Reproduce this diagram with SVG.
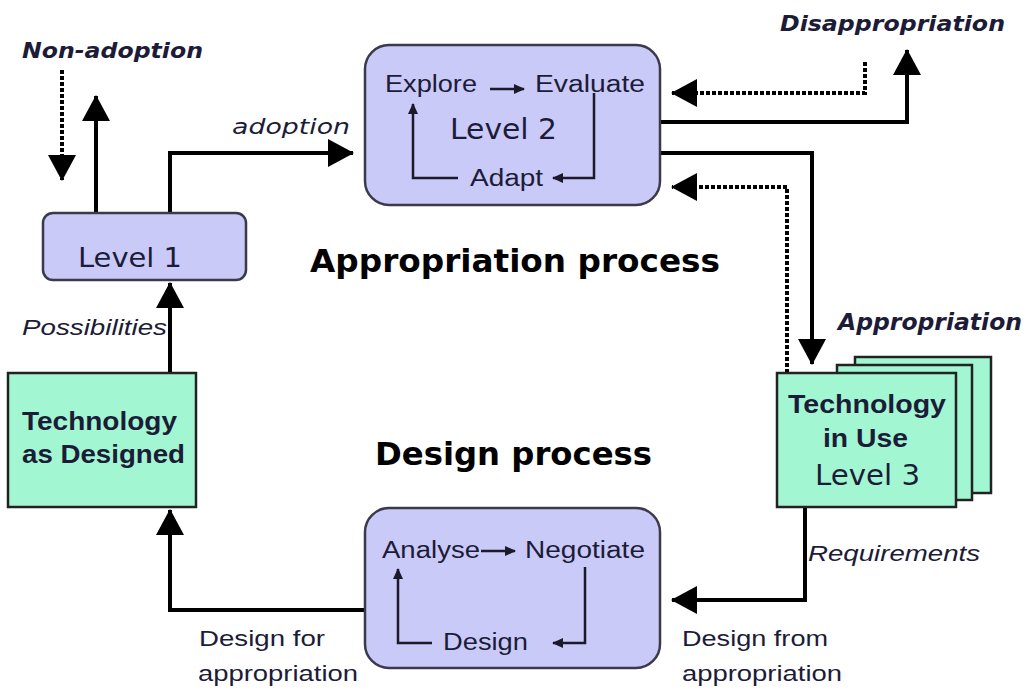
<svg xmlns="http://www.w3.org/2000/svg" width="1027" height="689" viewBox="0 0 1027 689">
<defs>
<style>
.lav{fill:#cacaf8;stroke:#3a3a4a;stroke-width:2.5}
.grn{fill:#a2f7d2;stroke:#222;stroke-width:2.5}
.ln{fill:none;stroke:#000;stroke-width:4}
.dot{fill:none;stroke:#000;stroke-width:4;stroke-dasharray:4 2}
.in{fill:none;stroke:#1a1a2a;stroke-width:2.5}
.t{font-family:"Liberation Sans",Arial,sans-serif;fill:#1c1c38}
.it{font-family:"Liberation Sans",Arial,sans-serif;font-style:italic;fill:#1c1c38}
.ibt{font-family:"DejaVu Sans",Verdana,sans-serif;font-style:italic;font-weight:bold;fill:#1c1c38}
.lv{font-family:"DejaVu Sans",Verdana,sans-serif;fill:#1c1c38}
.ttl{font-family:"DejaVu Sans","Liberation Sans",sans-serif;font-weight:bold;fill:#000}
</style>
<marker id="ah" markerUnits="userSpaceOnUse" markerWidth="26" markerHeight="28" refX="25" refY="14" orient="auto"><path d="M0,0 L26,14 L0,28 z" fill="#000"/></marker>
<marker id="sah" markerUnits="userSpaceOnUse" markerWidth="11" markerHeight="10" refX="10" refY="5" orient="auto"><path d="M0,0 L11,5 L0,10 z" fill="#1a1a2a"/></marker>
</defs>
<rect width="1027" height="689" fill="#fff"/>

<g id="connectors">
<path class="dot" d="M62,70 V180" marker-end="url(#ah)"/>
<path class="ln" d="M96,213 V96" marker-end="url(#ah)"/>
<path class="ln" d="M170,213 V153 H353" marker-end="url(#ah)"/>
<path class="ln" d="M660,122 H907 V50" marker-end="url(#ah)"/>
<path class="dot" d="M865,62 V93 H672" marker-end="url(#ah)"/>
<path class="ln" d="M660,153 H812 V364" marker-end="url(#ah)"/>
<path class="dot" d="M787,373 V187 H672" marker-end="url(#ah)"/>
<path class="ln" d="M805,507 V600 H672" marker-end="url(#ah)"/>
<path class="ln" d="M365,610 H170 V510" marker-end="url(#ah)"/>
<path class="ln" d="M170,373 V283" marker-end="url(#ah)"/>
</g>

<g id="labels">
<text class="ibt" x="22" y="58" font-size="22" textLength="181" lengthAdjust="spacingAndGlyphs">Non-adoption</text>
<text class="ibt" x="232" y="134" font-size="22" font-weight="normal" textLength="118" lengthAdjust="spacingAndGlyphs" style="font-weight:normal">adoption</text>
<text class="ibt" x="780" y="31" font-size="22" textLength="225" lengthAdjust="spacingAndGlyphs">Disappropriation</text>
<text class="ibt" x="838" y="330" font-size="23" textLength="184" lengthAdjust="spacingAndGlyphs">Appropriation</text>
<text class="it" x="22" y="335" font-size="22" textLength="145" lengthAdjust="spacingAndGlyphs">Possibilities</text>
<text class="it" x="808" y="561" font-size="22" textLength="172" lengthAdjust="spacingAndGlyphs">Requirements</text>
<text class="t" x="199" y="646" font-size="22" textLength="126" lengthAdjust="spacingAndGlyphs">Design for</text>
<text class="t" x="198" y="681" font-size="22" textLength="160" lengthAdjust="spacingAndGlyphs">appropriation</text>
<text class="t" x="682" y="646" font-size="22" textLength="146" lengthAdjust="spacingAndGlyphs">Design from</text>
<text class="t" x="682" y="681" font-size="22" textLength="160" lengthAdjust="spacingAndGlyphs">appropriation</text>
<text class="ttl" x="310" y="272" font-size="32" textLength="410" lengthAdjust="spacingAndGlyphs">Appropriation process</text>
<text class="ttl" x="375" y="465" font-size="32" textLength="277" lengthAdjust="spacingAndGlyphs">Design process</text>
</g>

<g id="level1">
<rect class="lav" x="43" y="213" width="203" height="67" rx="10"/>
<text class="lv" x="78" y="267" font-size="27" textLength="104" lengthAdjust="spacingAndGlyphs">Level 1</text>
</g>

<g id="level2">
<rect class="lav" x="365" y="45" width="295" height="160" rx="24"/>
<text class="t" x="385" y="92" font-size="23" textLength="92" lengthAdjust="spacingAndGlyphs">Explore</text>
<text class="t" x="535" y="92" font-size="23" textLength="110" lengthAdjust="spacingAndGlyphs">Evaluate</text>
<text class="lv" x="450" y="139" font-size="29" textLength="107" lengthAdjust="spacingAndGlyphs">Level 2</text>
<text class="t" x="470" y="186" font-size="23" textLength="73" lengthAdjust="spacingAndGlyphs">Adapt</text>
<path class="in" d="M490,89 H524" marker-end="url(#sah)"/>
<path class="in" d="M594,93 V178 H553" marker-end="url(#sah)"/>
<path class="in" d="M458,178 H413 V104" marker-end="url(#sah)"/>
</g>

<g id="design">
<rect class="lav" x="365" y="508" width="295" height="160" rx="24"/>
<text class="t" x="382" y="558" font-size="23" textLength="98" lengthAdjust="spacingAndGlyphs">Analyse</text>
<text class="t" x="525" y="558" font-size="23" textLength="120" lengthAdjust="spacingAndGlyphs">Negotiate</text>
<text class="t" x="443" y="650" font-size="23" textLength="85" lengthAdjust="spacingAndGlyphs">Design</text>
<path class="in" d="M481,551 H515" marker-end="url(#sah)"/>
<path class="in" d="M585,567 V643 H553" marker-end="url(#sah)"/>
<path class="in" d="M432,643 H398 V569" marker-end="url(#sah)"/>
</g>

<g id="tech-designed">
<rect class="grn" x="8" y="373" width="188" height="134"/>
<text class="t" x="22" y="430" font-size="25" font-weight="bold" textLength="155" lengthAdjust="spacingAndGlyphs">Technology</text>
<text class="t" x="22" y="463" font-size="25" font-weight="bold" textLength="163" lengthAdjust="spacingAndGlyphs">as Designed</text>
</g>

<g id="tech-in-use">
<rect class="grn" x="855" y="357" width="136" height="136"/>
<rect class="grn" x="837" y="365" width="135" height="135"/>
<rect class="grn" x="777" y="373" width="179" height="134"/>
<text class="t" x="788" y="413" font-size="25" font-weight="bold" textLength="158" lengthAdjust="spacingAndGlyphs">Technology</text>
<text class="t" x="823" y="447" font-size="25" font-weight="bold" textLength="85" lengthAdjust="spacingAndGlyphs">in Use</text>
<text class="lv" x="815" y="485" font-size="28" textLength="105" lengthAdjust="spacingAndGlyphs">Level 3</text>
</g>
</svg>
